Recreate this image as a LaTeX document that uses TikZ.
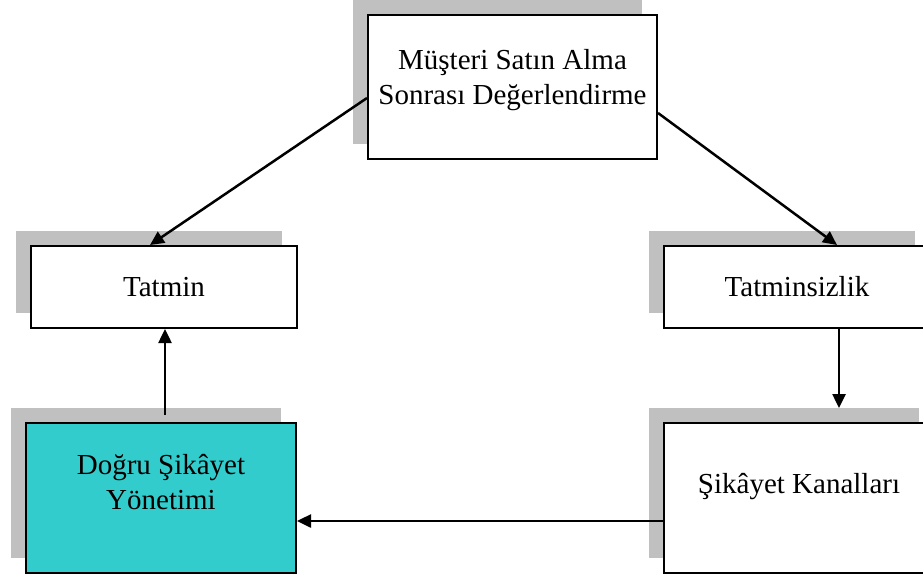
\documentclass[tikz,border=0pt]{standalone}
\usepackage{fontspec}
\setmainfont{Liberation Serif}
\usetikzlibrary{arrows.meta,shadows}

\definecolor{shadowgray}{RGB}{192,192,192}
\definecolor{turkuaz}{RGB}{51,204,204}

\begin{document}
\begin{tikzpicture}[x=1pt, y=-1pt,
  box/.style={draw, line width=2pt, fill=white, align=center, inner sep=0pt,
    font=\fontsize{29}{35}\selectfont,
    drop shadow={shadow xshift=-15.5pt, shadow yshift=15pt, fill=shadowgray, opacity=1}},
  arr/.style={line width=2.5pt, -{Triangle[length=14pt,width=13pt]}}]
\useasboundingbox (0,0) rectangle (923,576);
\clip (0,0) rectangle (923,576);

% Boxes
\node[box, minimum width=289pt, minimum height=144pt, text depth=21pt] (deger) at (512.5,87)
  {Müşteri Satın Alma\\Sonrası Değerlendirme};
\node[box, minimum width=266pt, minimum height=82pt] (tatmin) at (164,287) {Tatmin};
\node[box, minimum width=266pt, minimum height=82pt] (tatminsiz) at (797,287) {Tatminsizlik};
\node[box, fill=turkuaz, minimum width=270pt, minimum height=150pt, text depth=33pt] (dogru) at (161,498)
  {Doğru Şikâyet\\Yönetimi};
\node[box, minimum width=270pt, minimum height=150pt, text depth=29pt] (kanal) at (799,498)
  {Şikâyet Kanalları};

% Connection points
\coordinate (kanaltop) at ([xshift=40pt, yshift=14pt]kanal.north);
\coordinate (dogrutop) at ([xshift=4pt, yshift=7pt]dogru.north);
\coordinate (kanalleft) at ([yshift=-23pt]kanal.west);

% Arrows
\draw[arr] ([yshift=-11pt]deger.west) -- ([xshift=-14pt]tatmin.north);
\draw[arr] ([yshift=-26pt]deger.east) -- ([xshift=40pt]tatminsiz.north);
\draw[arr] (tatminsiz.south -| kanaltop) -- (kanaltop);
\draw[arr] (kanalleft) -- (dogru.east |- kanalleft);
\draw[arr] (dogrutop) -- (tatmin.south -| dogrutop);
\end{tikzpicture}
\end{document}
